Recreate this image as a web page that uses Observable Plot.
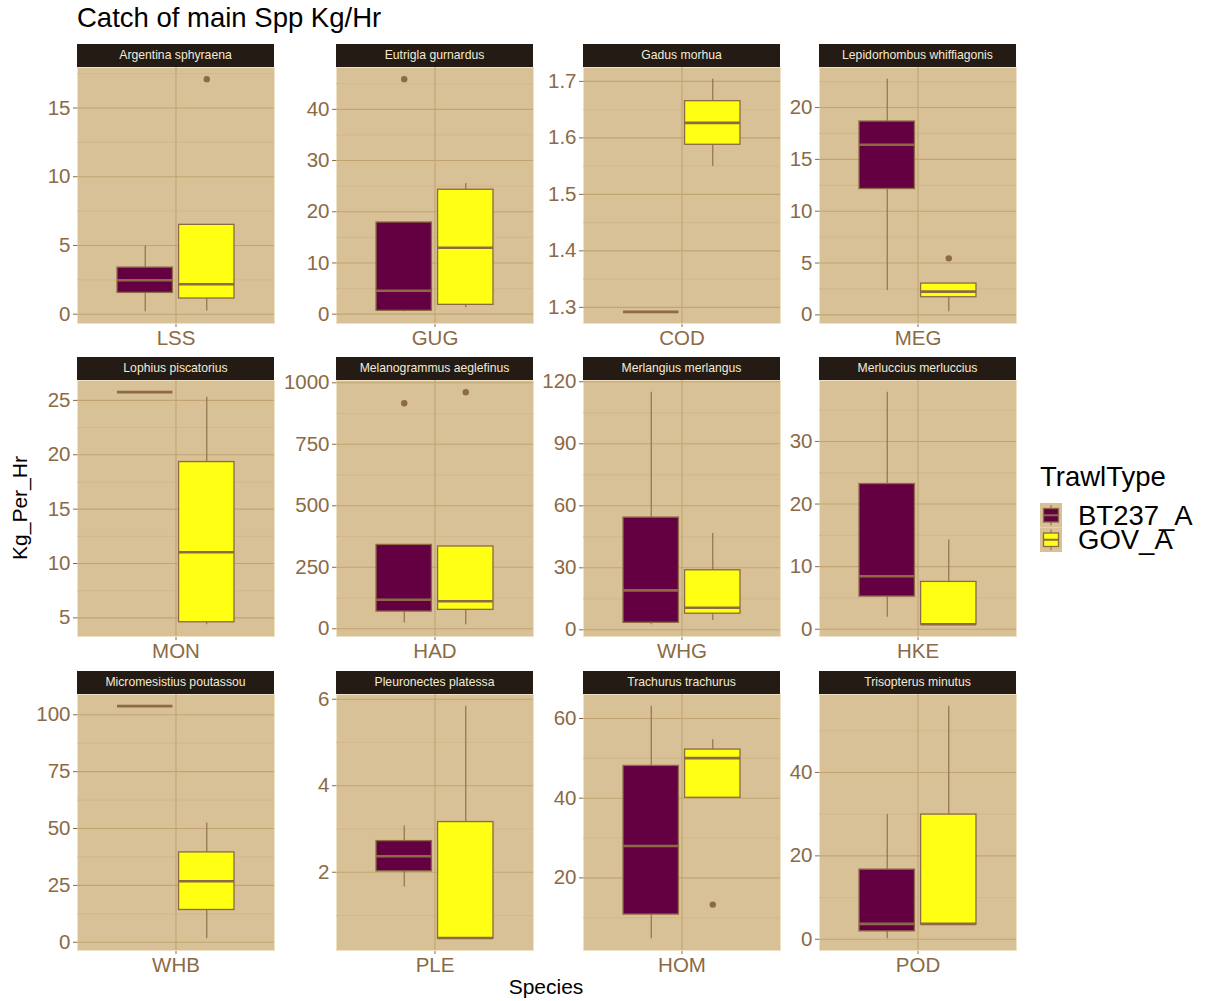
<!DOCTYPE html>
<html><head><meta charset="utf-8">
<script src="https://cdn.jsdelivr.net/npm/d3@7"></script>
<script src="https://cdn.jsdelivr.net/npm/@observablehq/plot@0.6"></script>
<style>
body{margin:0;background:#fff;font-family:"Liberation Sans",Arial,sans-serif;}
#root{position:relative;width:1206px;height:1001px;overflow:hidden;}
.strip{position:absolute;background:#231b14;color:#f4ead6;font-size:12.2px;text-align:center;line-height:23px;height:23px;white-space:nowrap;}
.panel{position:absolute;}
.title{position:absolute;left:77px;top:2px;font-size:27.5px;color:#000;}
.xlab{position:absolute;left:446px;width:200px;top:975px;text-align:center;font-size:21px;color:#000;}
.ylab{position:absolute;left:20px;top:508px;font-size:21px;color:#000;transform:translate(-50%,-50%) rotate(-90deg);white-space:nowrap;}
</style></head>
<body><div id="root"></div>
<script>
// ---- data ----
const species = ["Argentina sphyraena","Eutrigla gurnardus","Gadus morhua","Lepidorhombus whiffiagonis",
  "Lophius piscatorius","Melanogrammus aeglefinus","Merlangius merlangus","Merluccius merluccius",
  "Micromesistius poutassou","Pleuronectes platessa","Trachurus trachurus","Trisopterus minutus"];
const codes = ["LSS","GUG","COD","MEG","MON","HAD","WHG","HKE","WHB","PLE","HOM","POD"];
const trawlTypes = ["BT237_A","GOV_A"];
// box stats per species: [lower whisker, Q1, median, Q3, upper whisker]
const bt237Stats = [
  [0.17,1.55,2.47,3.39,4.97],
  [0.45,0.65,4.56,17.9,17.9],
  [1.292,1.292,1.292,1.292,1.292],
  [2.34,12.14,16.41,18.65,22.74],
  [25.76,25.76,25.76,25.76,25.76],
  [24,70,118,341,341],
  [2.4,3.4,19.1,54.3,115],
  [1.92,5.22,8.46,23.2,37.88],
  [103.8,103.8,103.8,103.8,103.8],
  [1.66,2.02,2.37,2.72,3.07],
  [4.7,10.8,28.0,48.1,63.1],
  [0.1,1.9,3.7,16.7,29.9]
];
const govStats = [
  [0.24,1.14,2.18,6.5,6.5],
  [1.23,1.82,12.96,24.3,25.5],
  [1.5495,1.5878,1.6265,1.665,1.704],
  [0.29,1.70,2.24,3.02,3.02],
  [4.36,4.6,11.04,19.33,25.3],
  [16,77,112,334.6,334.6],
  [4.5,7.8,10.7,28.8,46.6],
  [0.7,0.75,0.8,7.56,14.27],
  [1.5,14.2,26.8,39.5,52.4],
  [0.46,0.46,0.48,3.16,5.84],
  [40.1,40.1,50.06,52.2,54.65],
  [3.5,3.5,3.7,29.9,55.9]
];
const bt237Outliers = [[],[45.9],[],[],[],[917],[],[],[],[],[],[]];
const govOutliers = [[17.1],[],[],[5.45],[],[962],[],[],[],[],[13.3],[]];
const yTicks = [
  [0,5,10,15],[0,10,20,30,40],[1.3,1.4,1.5,1.6,1.7],[0,5,10,15,20],
  [5,10,15,20,25],[0,250,500,750,1000],[0,30,60,90,120],[0,10,20,30],
  [0,25,50,75,100],[2,4,6],[20,40,60],[0,20,40]
];
const fillColors = ["#640042","#ffff14"];

// ---- layout ----
const colLefts = [77,336,583,819];
const rowTops = [67,380,694];
const panelW = 197, panelH = 256, stripH = 23;
const ML = 70, MB = 36;
const brown = "#8b6a45";
const dodgeWidth = 0.75, boxW = dodgeWidth/2*0.9;
const offsets = [-dodgeWidth/4, dodgeWidth/4];

const root = document.getElementById("root");
const title = document.createElement("div");
title.className = "title"; title.textContent = "Catch of main Spp Kg/Hr";
root.appendChild(title);

function minorTicks(t, dom){
  const step = t[1]-t[0], out = [];
  for (let k = -1; k <= t.length; k++) {
    const v = t[0] + (k + 0.5)*step;
    if (v >= dom[0] && v <= dom[1]) out.push(v);
  }
  return out;
}

species.forEach((sp, i) => {
  const col = i % 4, row = Math.floor(i / 4);
  const statsSets = [bt237Stats[i], govStats[i]];
  const boxes = statsSets.map((s, g) => ({
    group: trawlTypes[g], pos: 1 + offsets[g],
    lo: s[0], q1: s[1], med: s[2], q3: s[3], hi: s[4], fill: fillColors[g]
  }));
  const outs = [];
  [bt237Outliers[i], govOutliers[i]].forEach((arr, g) => arr.forEach(v => outs.push({pos: 1 + offsets[g], v})));
  const vals = boxes.flatMap(b => [b.lo, b.hi]).concat(outs.map(o => o.v));
  const mn = d3.min(vals), mx = d3.max(vals), pad = (mx - mn) * 0.05;
  const dom = [mn - pad, mx + pad];
  const ticks = yTicks[i];
  const fmt = ticks.some(t => !Number.isInteger(t)) ? d3.format(".1f") : d3.format("d");

  const strip = document.createElement("div");
  strip.className = "strip";
  strip.style.left = colLefts[col] + "px";
  strip.style.top = (rowTops[row] - stripH) + "px";
  strip.style.width = panelW + "px";
  strip.textContent = sp;
  root.appendChild(strip);

  const chart = Plot.plot({
    width: ML + panelW, height: panelH + MB,
    marginLeft: ML, marginRight: 0, marginTop: 0, marginBottom: MB,
    style: {background: "transparent", fontFamily: "'Liberation Sans', Arial, sans-serif", fontSize: "20.5px", color: brown, overflow: "visible"},
    x: {domain: [0.4, 1.6], ticks: [1], tickFormat: () => codes[i], tickSize: 4, tickPadding: 3, label: null},
    y: {domain: dom, ticks: ticks, tickFormat: fmt, tickSize: 4, tickPadding: 3, label: null},
    marks: [
      Plot.frame({fill: "#d8c196", stroke: "#efe2c4", strokeWidth: 1}),
      Plot.ruleY(minorTicks(ticks, dom), {stroke: "#ceb487", strokeWidth: 0.7}),
      Plot.ruleY(ticks, {stroke: "#c2a472", strokeWidth: 1.1}),
      Plot.ruleX([1], {stroke: "#c2a472", strokeWidth: 1.1}),
      Plot.ruleX(boxes, {x: "pos", y1: "lo", y2: "hi", stroke: brown, strokeWidth: 1.1}),
      Plot.rectY(boxes, {x1: d => d.pos - boxW/2, x2: d => d.pos + boxW/2, y1: "q1", y2: "q3", fill: "fill", stroke: brown, strokeWidth: 1.3}),
      Plot.ruleY(boxes, {x1: d => d.pos - boxW/2, x2: d => d.pos + boxW/2, y: "med", stroke: brown, strokeWidth: 2.6}),
      Plot.dot(outs, {x: "pos", y: "v", r: 3.2, fill: brown, stroke: "none"})
    ]
  });
  chart.classList.add("panel");
  chart.style.position = "absolute";
  chart.style.left = (colLefts[col] - ML) + "px";
  chart.style.top = rowTops[row] + "px";
  root.appendChild(chart);
});

const xl = document.createElement("div"); xl.className = "xlab"; xl.textContent = "Species"; root.appendChild(xl);
const yl = document.createElement("div"); yl.className = "ylab"; yl.textContent = "Kg_Per_Hr"; root.appendChild(yl);

// legend
const lg = d3.select(root).append("svg")
  .style("position", "absolute").style("left", "1030px").style("top", "455px")
  .attr("width", 176).attr("height", 110)
  .style("font-family", "'Liberation Sans', Arial, sans-serif");
lg.append("text").attr("x", 10).attr("y", 31).attr("font-size", 27.5).attr("fill", "#000").text("TrawlType");
trawlTypes.forEach((t, g) => {
  const y0 = 48 + g * 24.5;
  lg.append("rect").attr("x", 10).attr("y", y0).attr("width", 22).attr("height", 24.5).attr("fill", "#d8c196");
  lg.append("line").attr("x1", 21).attr("x2", 21).attr("y1", y0 + 2).attr("y2", y0 + 22.5).attr("stroke", brown);
  lg.append("rect").attr("x", 13.5).attr("y", y0 + 5.5).attr("width", 15).attr("height", 13.5).attr("fill", fillColors[g]).attr("stroke", brown).attr("stroke-width", 1.3);
  lg.append("line").attr("x1", 13.5).attr("x2", 28.5).attr("y1", y0 + 12.25).attr("y2", y0 + 12.25).attr("stroke", brown).attr("stroke-width", 2);
  lg.append("text").attr("x", 48).attr("y", y0 + 21.5).attr("font-size", 27.5).attr("fill", "#000").text(t);
});
</script>
</body></html>
